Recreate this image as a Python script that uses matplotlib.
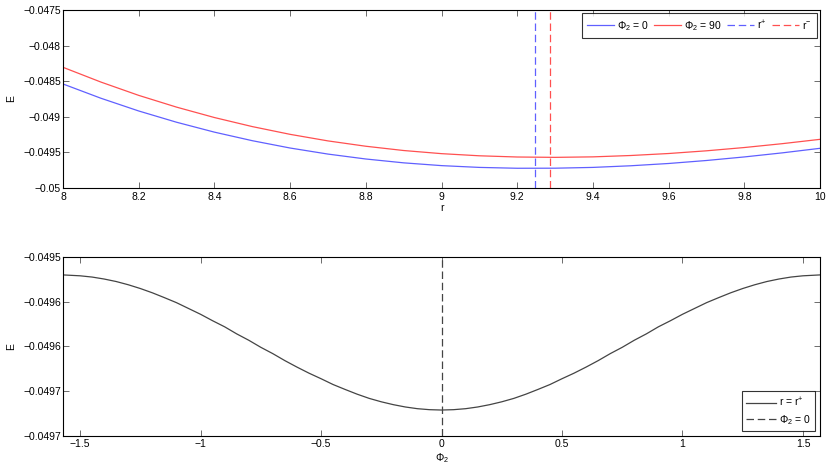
import numpy as np
import matplotlib
matplotlib.use('Agg')
import matplotlib.pyplot as plt
from matplotlib.ticker import FuncFormatter

plt.rcParams['font.family'] = ['Liberation Sans', 'DejaVu Sans']
plt.rcParams['mathtext.fontset'] = 'custom'
plt.rcParams['mathtext.rm'] = 'Liberation Sans'
plt.rcParams['mathtext.it'] = 'Liberation Sans'
plt.rcParams['font.size'] = 7.5

# ---- datos ----
r = [8.0, 8.1, 8.2, 8.3, 8.4, 8.5, 8.6, 8.7, 8.8, 8.9, 9.0,
     9.1, 9.2, 9.3, 9.4, 9.5, 9.6, 9.7, 9.8, 9.9, 10.0]
E_phi0 = [-0.048539, -0.048739, -0.048918, -0.049076, -0.049215, -0.049335,
          -0.049438, -0.049523, -0.049592, -0.049646, -0.049685, -0.049710,
          -0.049722, -0.049721, -0.049710, -0.049687, -0.049655, -0.049613,
          -0.049563, -0.049506, -0.049442]
E_phi90 = [-0.048305, -0.048512, -0.048699, -0.048864, -0.049010, -0.049137,
           -0.049246, -0.049338, -0.049413, -0.049473, -0.049517, -0.049547,
           -0.049564, -0.049569, -0.049562, -0.049543, -0.049515, -0.049477,
           -0.049431, -0.049377, -0.049316]
r_mas = 9.247    # r+
r_menos = 9.287  # r-

# mitad derecha de la curva de abajo (phi >= 0); es simetrica
phi_der = [0.0, 0.05, 0.1, 0.15, 0.2, 0.25, 0.3, 0.35, 0.4, 0.45, 0.5,
           0.55, 0.6, 0.65, 0.7, 0.75, 0.8, 0.85, 0.9, 0.95, 1.0, 1.05,
           1.1, 1.15, 1.2, 1.25, 1.3, 1.35, 1.4, 1.45, 1.5, 1.55, 1.5708]
E_rmas_der = [-0.049671, -0.0496706, -0.0496695, -0.0496676, -0.049665,
              -0.0496618, -0.049658, -0.0496533, -0.049648, -0.0496425,
              -0.049636, -0.0496298, -0.049623, -0.0496158, -0.049608,
              -0.0496009, -0.049593, -0.0495859, -0.049578, -0.0495712,
              -0.049564, -0.0495575, -0.049551, -0.0495454, -0.049540,
              -0.0495352, -0.049531, -0.0495274, -0.0495246, -0.0495224,
              -0.049521, -0.0495203, -0.049520]

phi = [-p for p in phi_der[:0:-1]] + phi_der
E_rmas = E_rmas_der[:0:-1] + E_rmas_der

yticks_abajo = [-0.04970, -0.04965, -0.04960, -0.04955, -0.04950]
yticklabels_abajo = ['-0.0497', '-0.0497', '-0.0496', '-0.0496', '-0.0495']

fmt = FuncFormatter(lambda v, p: ('%g' % v).replace('-', '\u2212'))


def estilo(ax):
    ax.tick_params(direction='in', top=True, right=True, length=4,
                   width=0.6, color='#555555', labelsize=7.5)
    ax.tick_params(axis='y', pad=1.5)
    ax.tick_params(axis='x', pad=2.5)
    for s in ax.spines.values():
        s.set_linewidth(0.8)


fig = plt.figure(figsize=(8.3, 4.69), dpi=100)

# ---- arriba ----
ax1 = fig.add_axes([0.0759, 0.599, 0.9121, 0.3798])
ax1.plot(r, E_phi0, color='#6060ff', lw=0.9, label=r'$\Phi_2$ = 0')
ax1.plot(r, E_phi90, color='#ff5050', lw=0.9, label=r'$\Phi_2$ = 90')
ax1.axvline(r_mas, color='#6060ff', lw=0.9, ls=(0, (6, 3)), label=r'$\mathrm{r}^{+}$')
ax1.axvline(r_menos, color='#ff5050', lw=0.9, ls=(0, (6, 3)), label=r'$\mathrm{r}^{-}$')
ax1.set_xlim(8, 10)
ax1.set_ylim(-0.05, -0.0475)
ax1.set_xticks(np.arange(8, 10.01, 0.2))
ax1.set_yticks([-0.05, -0.0495, -0.049, -0.0485, -0.048, -0.0475])
ax1.xaxis.set_major_formatter(fmt)
ax1.yaxis.set_major_formatter(fmt)
ax1.set_xlabel('r', labelpad=1)
ax1.set_ylabel('E', labelpad=5)
estilo(ax1)
leg1 = ax1.legend(loc='upper right', ncol=4, fontsize=7.5, frameon=True,
                  fancybox=False, edgecolor='black', handlelength=2.6,
                  handletextpad=0.3, columnspacing=0.5, borderpad=0.5,
                  borderaxespad=0.3)
leg1.get_frame().set_linewidth(0.8)

# ---- abajo ----
ax2 = fig.add_axes([0.0759, 0.0704, 0.9121, 0.3816])
ax2.plot(phi, E_rmas, color='#444444', lw=0.9, label=r'r = $\mathrm{r}^{+}$')
ax2.axvline(0, color='#444444', lw=0.9, ls=(0, (6, 3)), label=r'$\Phi_2$ = 0')
ax2.set_xlim(-np.pi / 2, np.pi / 2)
ax2.set_ylim(-0.0497, -0.0495)
ax2.set_xticks([-1.5, -1, -0.5, 0, 0.5, 1, 1.5])
ax2.xaxis.set_major_formatter(fmt)
ax2.set_yticks(yticks_abajo)
ax2.set_yticklabels([t.replace('-', '\u2212') for t in yticklabels_abajo])
ax2.set_xlabel(r'$\Phi_2$', labelpad=1)
ax2.set_ylabel('E', labelpad=5)
estilo(ax2)
leg2 = ax2.legend(loc='lower right', fontsize=7.5, frameon=True,
                  fancybox=False, edgecolor='black', handlelength=2.8,
                  handletextpad=0.3, borderpad=0.4, borderaxespad=0.5,
                  labelspacing=0.4)
leg2.get_frame().set_linewidth(0.8)

fig.savefig('out.png', dpi=100)
